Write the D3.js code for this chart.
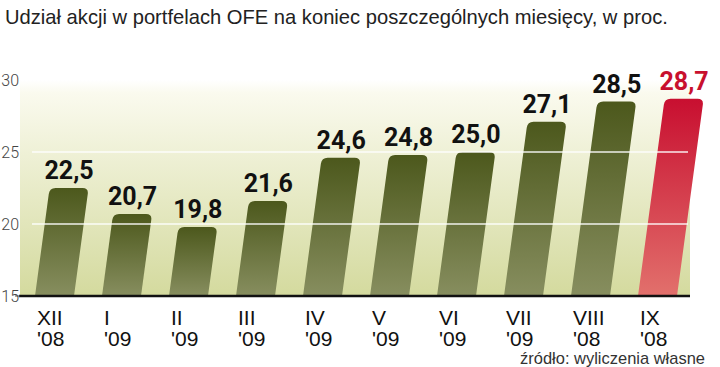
<!DOCTYPE html>
<html><head><meta charset="utf-8">
<script src="https://cdn.jsdelivr.net/npm/d3@7"></script>
<style>html,body{margin:0;padding:0;background:#fff;}svg{display:block;}</style>
</head><body>
<svg id="c" width="720" height="367"></svg>
<script>
const title = "Udział akcji w portfelach OFE na koniec poszczególnych miesięcy, w proc.";
const source = "źródło: wyliczenia własne";
const months = ["XII", "I", "II", "III", "IV", "V", "VI", "VII", "VIII", "IX"];
const years = ["'08", "'09", "'09", "'09", "'09", "'09", "'09", "'09", "'08", "'08"];
const values = [22.5, 20.7, 19.8, 21.6, 24.6, 24.8, 25.0, 27.1, 28.5, 28.7];
const labels = ["22,5", "20,7", "19,8", "21,6", "24,6", "24,8", "25,0", "27,1", "28,5", "28,7"];
const highlight = [false, false, false, false, false, false, false, false, false, true];
const yTicks = [15, 20, 25, 30];
const gridTicks = [20, 25];

const svg = d3.select("#c");
const defs = svg.append("defs");
const bg = defs.append("linearGradient").attr("id","bg").attr("x1",0).attr("y1",0).attr("x2",0).attr("y2",1);
bg.append("stop").attr("offset","0%").attr("stop-color","#ffffff");
bg.append("stop").attr("offset","6%").attr("stop-color","#fafaee");
bg.append("stop").attr("offset","100%").attr("stop-color","#d4da9e");
const gG = defs.append("linearGradient").attr("id","gG").attr("x1",0).attr("y1",0).attr("x2",0).attr("y2",1);
gG.append("stop").attr("offset","0%").attr("stop-color","#4c581c");
gG.append("stop").attr("offset","100%").attr("stop-color","#878e5f");
const gR = defs.append("linearGradient").attr("id","gR").attr("x1",0).attr("y1",0).attr("x2",0).attr("y2",1);
gR.append("stop").attr("offset","0%").attr("stop-color","#c80f30");
gR.append("stop").attr("offset","100%").attr("stop-color","#e2706c");

const y = d3.scaleLinear().domain([15, 30]).range([296, 80]);
const x = d3.scaleBand().domain(months).range([35, 677]).paddingInner(0.418).paddingOuter(0);
const k = 0.135;
const base = y(15);

// title (font size fitted to the reference width)
const t = svg.append("text").attr("x", 5).attr("y", 24)
  .attr("font-family", "'Liberation Sans Narrow', 'Arial Narrow', sans-serif")
  .attr("font-size", 22).attr("fill", "#222")
  .text(title);
const tw = t.node().getComputedTextLength();
if (tw > 0) t.attr("font-size", Math.min(24, 22 * 663 / tw));

// background
svg.append("rect").attr("x", 20).attr("y", y(30)).attr("width", 670).attr("height", base - y(30)).attr("fill", "url(#bg)");

// bars
const bars = svg.append("g").attr("transform", `translate(0,${base}) skewX(${-Math.atan(k)*180/Math.PI})`);
const r = 6;
bars.selectAll("path").data(values).join("path")
  .attr("d", (v, i) => {
    const x0 = x(months[i]), w = x.bandwidth(), h = base - y(v);
    return `M${x0},0 L${x0},${-h + r} Q${x0},${-h} ${x0 + r},${-h} L${x0 + w - r},${-h} Q${x0 + w},${-h} ${x0 + w},${-h + r} L${x0 + w},0 Z`;
  })
  .attr("fill", (v, i) => highlight[i] ? "url(#gR)" : "url(#gG)");

// gridlines
svg.selectAll("line.grid").data(gridTicks).join("line").attr("class","grid")
  .attr("x1", 32).attr("x2", 688).attr("y1", d => y(d)).attr("y2", d => y(d))
  .attr("stroke", "#ffffff").attr("stroke-width", 1.5).attr("opacity", 0.9);

// baseline
svg.append("line").attr("x1", 19).attr("x2", 690).attr("y1", base).attr("y2", base).attr("stroke", "#111").attr("stroke-width", 2.5);
svg.append("line").attr("x1", 15).attr("x2", 20).attr("y1", base).attr("y2", base).attr("stroke", "#555").attr("stroke-width", 1);

// y axis labels
svg.selectAll("text.yt").data(yTicks).join("text").attr("class","yt")
  .attr("x", 19).attr("y", d => y(d) + 6).attr("text-anchor", "end")
  .attr("font-family", "Roboto, 'Liberation Sans', sans-serif").attr("font-weight", 300)
  .attr("font-size", 16).attr("fill", "#444").text(d => d);

// value labels
svg.selectAll("text.val").data(values).join("text").attr("class","val")
  .attr("x", (v, i) => x(months[i]) + x.bandwidth()/2 + k*(base - y(v)))
  .attr("y", v => y(v) - 9).attr("text-anchor", "middle")
  .attr("font-family", "Roboto, 'Liberation Sans', sans-serif").attr("font-weight", 700)
  .attr("font-size", 25).attr("fill", (v, i) => highlight[i] ? "#c8102e" : "#111")
  .text((v, i) => labels[i]);

// x labels
const xl = svg.selectAll("text.xl").data(months).join("text").attr("class","xl")
  .attr("x", d => x(d) + 2).attr("y", 325)
  .attr("font-family", "'Liberation Sans', Arial, sans-serif").attr("font-size", 21).attr("fill", "#111");
xl.append("tspan").text(d => d);
xl.append("tspan").attr("x", d => x(d) + 2).attr("dy", 21).text((d, i) => years[i]);

// source
svg.append("text").attr("x", 705).attr("y", 364).attr("text-anchor", "end")
  .attr("font-family", "'Liberation Sans Narrow', 'Arial Narrow', sans-serif")
  .attr("font-size", 17).attr("fill", "#333")
  .attr("textLength", 185).attr("lengthAdjust", "spacingAndGlyphs")
  .text(source);
</script>
</body></html>
